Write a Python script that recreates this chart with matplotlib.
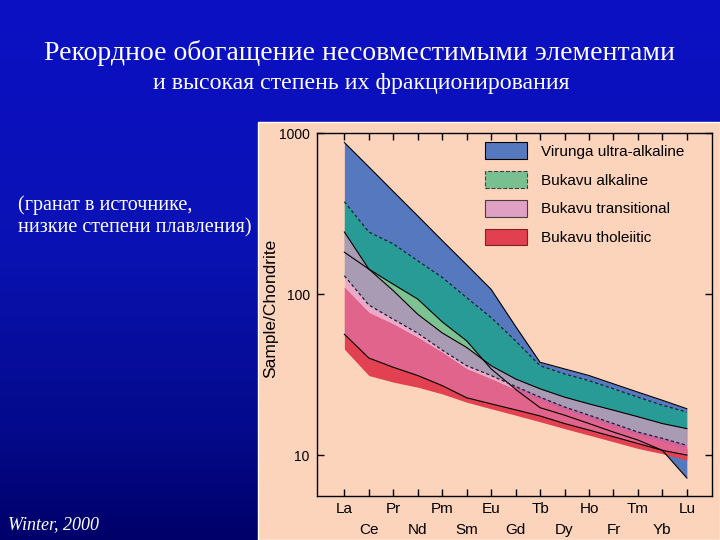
import numpy as np
import matplotlib
matplotlib.use('Agg')
import matplotlib.pyplot as plt
from matplotlib.patches import Patch, Rectangle
from matplotlib.colors import LinearSegmentedColormap
from matplotlib.ticker import NullLocator

plt.rcParams['font.family'] = ['Liberation Sans', 'DejaVu Sans']

# REE in order (label "Fr" kept as in the original figure)
elements = ['La', 'Ce', 'Pr', 'Nd', 'Pm', 'Sm', 'Eu', 'Gd', 'Tb', 'Dy', 'Ho', 'Fr', 'Tm', 'Yb', 'Lu']

# band limits, sample/chondrite
virunga_top = [874, 617, 434, 306, 215, 152, 107, 63, 37.7, 34.3, 31.2, 27.7, 24.6, 21.9, 19.4]
virunga_bot = [182, 143, 115, 93.1, 67.2, 51.2, 34.3, 25.6, 19.7, 17.7, 15.7, 13.9, 12.4, 10.7, 7.2]
alk_top = [375, 243, 205, 161, 127, 94.9, 71.5, 51.2, 35.9, 31.9, 29.0, 25.8, 22.9, 20.4, 18.5]
alk_bot = [130, 85.5, 69.8, 57.2, 44.9, 35.9, 31.2, 26.7, 22.9, 19.9, 17.7, 15.7, 13.9, 12.7, 11.5]
trans_top = [243, 143, 105, 74.9, 57.4, 46.6, 35.9, 29.7, 25.8, 22.9, 20.8, 19.0, 17.3, 15.7, 14.6]
trans_bot = [56.3, 40.1, 35.1, 31.2, 27.0, 22.7, 20.8, 19.1, 17.5, 15.7, 14.3, 13.0, 11.8, 10.7, 10.0]
thol_top = [110, 76.7, 65.0, 53.7, 43.4, 34.3, 29.7, 25.4, 21.9, 19.0, 16.8, 15.0, 13.3, 12.1, 11.0]
thol_bot = [45.5, 31.2, 28.4, 26.4, 24.0, 21.3, 19.4, 17.7, 16.1, 14.6, 13.3, 12.1, 11.0, 10.2, 9.3]

legend_labels = ['Virunga ultra-alkaline', 'Bukavu alkaline', 'Bukavu transitional', 'Bukavu tholeiitic']

c_blue = '#5578be'
c_green = '#7dc391'
c_pink = '#ebaac8'
c_red = '#e14150'
c_teal = '#289b96'     # blue + green
c_bp = '#cd649b'       # blue + pink
c_mauve = '#aa9bb4'    # green + pink
c_hot = '#e1648c'      # pink + red

fig = plt.figure(figsize=(7.2, 5.4), dpi=100)

# slide background
bg = fig.add_axes([0, 0, 1, 1], zorder=-10)
grad = np.linspace(0, 1, 256).reshape(-1, 1)
cmap = LinearSegmentedColormap.from_list('slide', [(0, '#0c10c4'), (0.45, '#0a12b4'), (0.8, '#040a8a'), (1, '#00006a')])
bg.imshow(grad, aspect='auto', cmap=cmap, extent=[0, 1, 0, 1], origin='upper')
bg.axis('off')

# peach panel of the scanned figure
fig.add_artist(Rectangle((258 / 720, 0), 1 - 258 / 720, 1 - 122 / 540, transform=fig.transFigure,
                         facecolor='#fcd4bc', edgecolor='white', lw=1, zorder=-5))

fig.text(0.5, 1 - 53 / 540, 'Рекордное обогащение несовместимыми элементами', color='white',
         fontsize=20, family='Liberation Serif', ha='center', va='center')
fig.text(0.502, 1 - 83 / 540, 'и высокая степень их фракционирования', color='white',
         fontsize=17.2, family='Liberation Serif', ha='center', va='center')
fig.text(18 / 720, 1 - 205 / 540, '(гранат в источнике,', color='white',
         fontsize=14.5, family='Liberation Serif', va='center')
fig.text(18 / 720, 1 - 228 / 540, 'низкие степени плавления)', color='white',
         fontsize=14.5, family='Liberation Serif', va='center')
fig.text(8 / 720, 1 - 525 / 540, 'Winter, 2000', color='white', fontsize=13,
         family='Liberation Serif', style='italic', va='center')

ax = fig.add_axes([0.4399, 0.0815, 0.5487, 0.672])
ax.set_facecolor('none')
ax.set_yscale('log')

x = np.arange(len(elements))

# single bands
blue = ax.fill_between(x, virunga_bot, virunga_top, color=c_blue, lw=0, zorder=1)
green = ax.fill_between(x, alk_bot, alk_top, color=c_green, lw=0, zorder=2)
pink = ax.fill_between(x, trans_bot, trans_top, color=c_pink, lw=0, zorder=3)
red = ax.fill_between(x, thol_bot, thol_top, color=c_red, lw=0, zorder=4)


# overlaps: fill one band again, clipped to another
def overlap(lo, hi, color, clip, z):
    p = ax.fill_between(x, lo, hi, color=color, lw=0, zorder=z)
    p.set_clip_path(clip.get_paths()[0], ax.transData)


overlap(alk_bot, alk_top, c_teal, blue, 5)
overlap(trans_bot, trans_top, c_bp, blue, 6)
overlap(trans_bot, trans_top, c_mauve, green, 7)
overlap(thol_bot, thol_top, c_hot, pink, 8)

# outlines
ax.plot(x, virunga_top, color='k', lw=0.8, zorder=10)
ax.plot(x, virunga_bot, color='k', lw=0.8, zorder=10)
ax.plot(x, alk_top, color='#10203a', lw=0.9, ls=(0, (2.5, 2)), zorder=10)
ax.plot(x, alk_bot, color='#10203a', lw=0.9, ls=(0, (2.5, 2)), zorder=10)
ax.plot(x, trans_top, color='k', lw=0.8, zorder=10)
ax.plot(x, trans_bot, color='k', lw=0.8, zorder=10)

ax.set_xlim(-1.13, 15.02)
ax.set_ylim(5.57, 1000)

ax.set_xticks(x[::2])
ax.set_xticklabels(elements[::2])
ax.set_xticks(x[1::2], minor=True)
ax.set_xticklabels(elements[1::2], minor=True)
ax.set_yticks([10, 100, 1000])
ax.set_yticklabels(['10', '100', '1000'])
ax.yaxis.set_minor_locator(NullLocator())
ax.tick_params(which='both', direction='in', top=True, right=True, length=5, width=1, labelsize=11)
ax.tick_params(axis='x', which='major', pad=4.5)
ax.tick_params(axis='x', which='minor', pad=19.5)
ax.tick_params(axis='y', labelsize=10, pad=5)
ax.set_ylabel('Sample/Chondrite', fontsize=12.5)
ax.yaxis.set_label_coords(-0.097, 0.516)
for s in ax.spines.values():
    s.set_linewidth(1)

handles = [Patch(facecolor=c_blue, edgecolor='k', lw=0.8),
           Patch(facecolor='#78c090', edgecolor='#404040', lw=0.8, ls='--'),
           Patch(facecolor='#e0a0c4', edgecolor='#404040', lw=0.8),
           Patch(facecolor='#e04050', edgecolor='#802020', lw=0.8)]
ax.legend(handles, legend_labels, loc='upper left', bbox_to_anchor=(0.426, 0.975), frameon=False,
          fontsize=11, handlelength=2.75, handleheight=1.3, handletextpad=0.9,
          labelspacing=0.8, borderpad=0, borderaxespad=0)

plt.savefig('out.png', dpi=100)
